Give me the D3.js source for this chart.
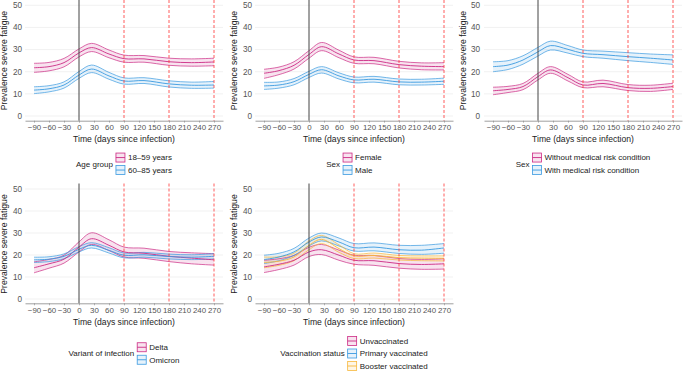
<!DOCTYPE html>
<html>
<head>
<meta charset="utf-8">
<script src="https://cdn.jsdelivr.net/npm/d3@7"></script>
<style>
  body { margin: 0; background: #fff; }
  svg { font-family: "Liberation Sans", Arial, sans-serif; }
</style>
</head>
<body>
<svg width="685" height="376"></svg>
<script>
const days = [-90, -60, -30, 0, 25, 60, 90, 130, 180, 225, 270];
const xTicks = [-90, -60, -30, 0, 30, 60, 90, 120, 150, 180, 210, 240, 270];
const yTicks = [0, 10, 20, 30, 40, 50];
const cutoffs = [90, 180, 270];

// age group
const age1859Mid = [21.8, 22.3, 24.1, 28.5, 30.9, 28.0, 25.9, 25.8, 24.5, 24.1, 24.4];
const age1859Hi  = [23.8, 24.2, 26.0, 30.3, 32.8, 29.8, 27.5, 27.3, 26.1, 25.8, 26.1];
const age1859Lo  = [19.7, 20.4, 22.2, 26.7, 29.1, 26.3, 24.3, 24.3, 22.9, 22.5, 22.7];
const age6085Mid = [11.7, 12.3, 14.0, 18.5, 21.2, 18.1, 15.8, 16.0, 14.5, 13.9, 14.0];
const age6085Hi  = [13.2, 13.7, 15.4, 20.1, 23.0, 19.7, 17.2, 17.3, 15.9, 15.3, 15.6];
const age6085Lo  = [10.1, 10.9, 12.6, 17.0, 19.6, 16.6, 14.4, 14.7, 13.1, 12.5, 12.6];

// sex
const femaleMid = [19.3, 20.5, 22.9, 27.8, 31.3, 28.0, 25.3, 25.0, 23.2, 22.5, 22.3];
const femaleHi  = [21.1, 22.1, 24.5, 29.5, 33.2, 29.7, 26.7, 26.5, 24.7, 24.0, 24.1];
const femaleLo  = [17.0, 18.7, 21.2, 26.1, 29.5, 26.3, 23.8, 23.6, 21.7, 20.9, 20.8];
const maleMid = [13.6, 14.0, 15.5, 18.8, 20.9, 18.1, 16.3, 16.6, 15.4, 15.3, 15.7];
const maleHi  = [15.2, 15.4, 16.9, 20.2, 22.3, 19.5, 17.6, 17.9, 16.7, 16.6, 17.1];
const maleLo  = [12.0, 12.6, 14.1, 17.4, 19.4, 16.7, 15.0, 15.3, 14.1, 14.0, 14.3];

// medical risk condition
const noRiskMid = [11.4, 12.0, 13.3, 17.8, 20.8, 17.3, 14.0, 14.7, 12.8, 12.5, 13.3];
const noRiskHi  = [13.0, 13.4, 14.7, 19.3, 22.3, 18.8, 15.4, 16.2, 14.2, 13.9, 14.8];
const noRiskLo  = [ 9.6, 10.6, 11.9, 16.3, 19.3, 15.8, 12.8, 13.2, 11.5, 11.1, 12.0];
const riskMid = [22.3, 23.0, 25.3, 29.0, 31.8, 30.1, 28.3, 27.7, 26.8, 26.1, 25.3];
const riskHi  = [24.5, 25.0, 27.2, 31.0, 33.8, 31.8, 29.8, 29.3, 28.6, 28.0, 27.6];
const riskLo  = [20.0, 21.0, 23.4, 27.1, 29.8, 28.4, 26.8, 26.1, 25.0, 24.2, 23.3];

// variant
const deltaMid = [14.2, 16.0, 18.1, 23.6, 27.4, 24.4, 21.4, 20.8, 19.4, 18.6, 17.8];
const deltaHi  = [16.9, 18.0, 19.9, 26.0, 30.1, 26.9, 23.6, 23.1, 21.6, 21.0, 20.6];
const deltaLo  = [11.9, 14.0, 16.3, 21.4, 24.8, 22.0, 19.1, 18.5, 17.0, 16.0, 15.4];
const omicronMid = [17.8, 18.1, 19.4, 22.6, 24.4, 22.1, 19.9, 20.1, 19.3, 19.0, 19.4];
const omicronHi  = [19.0, 19.2, 20.5, 23.8, 25.6, 23.3, 20.9, 21.2, 20.4, 20.1, 20.6];
const omicronLo  = [16.6, 17.0, 18.3, 21.4, 23.2, 20.9, 18.7, 19.0, 18.2, 17.9, 18.2];

// vaccination
const unvacMid = [14.6, 15.8, 17.6, 21.4, 22.4, 19.9, 17.6, 17.4, 16.1, 15.7, 16.0];
const unvacHi  = [17.6, 18.3, 19.8, 23.5, 24.8, 22.2, 19.9, 19.8, 18.4, 18.0, 18.3];
const unvacLo  = [12.0, 13.4, 15.4, 19.3, 20.2, 17.6, 15.8, 15.3, 14.0, 13.5, 13.6];
const primaryMid = [17.9, 19.1, 21.4, 25.9, 28.2, 25.9, 23.3, 23.6, 22.4, 22.2, 23.2];
const primaryHi  = [19.9, 20.8, 23.0, 27.7, 30.0, 27.7, 25.2, 25.5, 24.4, 24.4, 25.2];
const primaryLo  = [16.1, 17.4, 19.8, 24.1, 26.4, 24.1, 21.8, 21.9, 20.7, 20.3, 20.8];
const boosterMid = [16.6, 17.2, 19.1, 24.4, 27.1, 22.9, 19.6, 19.8, 18.8, 18.6, 18.5];
const boosterHi  = [19.1, 19.2, 20.8, 26.4, 28.9, 24.6, 20.6, 20.9, 19.8, 19.6, 19.6];
const boosterLo  = [14.2, 15.3, 17.4, 22.4, 25.2, 21.2, 18.4, 18.6, 17.7, 17.4, 17.3];

const pink = '#cc2a84', blue = '#3a9ae0', gold = '#f7b73c';

function ser(name, color, mid, lo, hi) {
    return { name, color, pts: days.map((d, i) => ({ d, m: mid[i], lo: lo[i], hi: hi[i] })) };
}

const panels = [
    { left: 25, row: 0, legend: 'Age group', series: [
        ser('18–59 years', pink, age1859Mid, age1859Lo, age1859Hi),
        ser('60–85 years', blue, age6085Mid, age6085Lo, age6085Hi)] },
    { left: 255, row: 0, legend: 'Sex', series: [
        ser('Female', pink, femaleMid, femaleLo, femaleHi),
        ser('Male', blue, maleMid, maleLo, maleHi)] },
    { left: 484, row: 0, legend: 'Sex', labelGap: 4, series: [
        ser('Without medical risk condition', pink, noRiskMid, noRiskLo, noRiskHi),
        ser('With medical risk condition', blue, riskMid, riskLo, riskHi)] },
    { left: 25, row: 1, legend: 'Variant of infection', series: [
        ser('Delta', pink, deltaMid, deltaLo, deltaHi),
        ser('Omicron', blue, omicronMid, omicronLo, omicronHi)] },
    { left: 255, row: 1, legend: 'Vaccination status', series: [
        ser('Unvaccinated', pink, unvacMid, unvacLo, unvacHi),
        ser('Primary vaccinated', blue, primaryMid, primaryLo, primaryHi),
        ser('Booster vaccinated', gold, boosterMid, boosterLo, boosterHi)] }
];

const rows = [
    { y0: 116, y50: 5.3, axisY: 120.7, top: 0, legendY: 163.8 },
    { y0: 299, y50: 189, axisY: 303.3, top: 183.5, legendY: 353.5 }
];

const svg = d3.select('svg');
const W = 198;

panels.forEach(p => {
    const r = rows[p.row];
    const x = d3.scaleLinear().domain([-108, 288]).range([p.left, p.left + W]);
    const y = d3.scaleLinear().domain([0, 50]).range([r.y0, r.y50]);
    const g = svg.append('g');

    // grid
    g.selectAll('line.grid').data(yTicks).join('line')
        .attr('x1', p.left).attr('x2', p.left + W)
        .attr('y1', d => y(d)).attr('y2', d => y(d))
        .attr('stroke', '#ebebeb').attr('stroke-width', 0.7);

    g.selectAll('text.ylab').data(yTicks).join('text')
        .attr('x', p.left - (p.labelGap || 3)).attr('y', d => y(d)).attr('dy', '0.35em')
        .attr('text-anchor', 'end').attr('font-size', 8.2).attr('fill', '#555')
        .text(d => d);

    // ribbons
    const area = d3.area().curve(d3.curveCatmullRom.alpha(0.5))
        .x(d => x(d.d)).y0(d => y(d.lo)).y1(d => y(d.hi));
    const line = k => d3.line().curve(d3.curveCatmullRom.alpha(0.5))
        .x(d => x(d.d)).y(d => y(d[k]));

    p.series.forEach(s => {
        g.append('path').datum(s.pts).attr('d', area)
            .attr('fill', s.color).attr('fill-opacity', 0.13);
    });
    p.series.forEach(s => {
        ['lo', 'hi'].forEach(k => {
            g.append('path').datum(s.pts).attr('d', line(k))
                .attr('fill', 'none').attr('stroke', s.color).attr('stroke-width', 0.7);
        });
    });
    p.series.forEach(s => {
        g.append('path').datum(s.pts).attr('d', line('m'))
            .attr('fill', 'none').attr('stroke', s.color).attr('stroke-width', 0.9);
    });

    // reference lines
    g.append('line').attr('x1', x(0)).attr('x2', x(0))
        .attr('y1', r.top).attr('y2', r.axisY)
        .attr('stroke', '#444').attr('stroke-width', 1);
    g.selectAll('line.cut').data(cutoffs).join('line')
        .attr('x1', d => x(d)).attr('x2', d => x(d))
        .attr('y1', r.top).attr('y2', r.axisY)
        .attr('stroke', '#f33').attr('stroke-width', 0.8)
        .attr('stroke-dasharray', '3,2');

    // x axis
    const ax = g.append('g').attr('transform', 'translate(0,' + r.axisY + ')')
        .call(d3.axisBottom(x).tickValues(xTicks).tickSize(2).tickPadding(2).tickSizeOuter(0)
            .tickFormat(d => d < 0 ? '\u2212' + Math.abs(d) : d));
    ax.select('.domain').attr('stroke', '#888').attr('stroke-width', 0.8);
    ax.selectAll('.tick line').attr('stroke', '#888').attr('stroke-width', 0.6);
    ax.selectAll('.tick text').attr('font-size', 7.9).attr('fill', '#555')
        .attr('font-family', '"Liberation Sans", Arial, sans-serif');

    g.append('text').attr('x', p.left + W / 2).attr('y', r.axisY + 18.6)
        .attr('dy', '0.35em').attr('text-anchor', 'middle')
        .attr('font-size', 8.6).attr('fill', '#222')
        .text('Time (days since infection)');

    g.append('text')
        .attr('transform', 'translate(' + (p.left - 21.5) + ',' + ((r.y0 + r.y50) / 2) + ') rotate(-90)')
        .attr('dy', '0.35em').attr('text-anchor', 'middle')
        .attr('font-size', 8.6).attr('fill', '#222')
        .text('Prevalence severe fatigue');

    // legend
    const lg = g.append('g');
    const title = lg.append('text').attr('y', r.legendY).attr('dy', '0.35em')
        .attr('font-size', 8).attr('fill', '#222').text(p.legend);
    const tw = title.node().getComputedTextLength();
    const n = p.series.length;
    const step = 12.5;
    const ky = i => r.legendY + (i - (n - 1) / 2) * step;
    const keyX = tw + 3;
    let maxLab = 0;
    p.series.forEach((s, i) => {
        lg.append('rect').attr('x', keyX).attr('y', ky(i) - 4.5)
            .attr('width', 9).attr('height', 9)
            .attr('fill', s.color).attr('fill-opacity', 0.13)
            .attr('stroke', s.color).attr('stroke-width', 0.8);
        lg.append('line').attr('x1', keyX).attr('x2', keyX + 9)
            .attr('y1', ky(i)).attr('y2', ky(i))
            .attr('stroke', s.color).attr('stroke-width', 0.9);
        const t = lg.append('text').attr('x', keyX + 12).attr('y', ky(i)).attr('dy', '0.35em')
            .attr('font-size', 8).attr('fill', '#222').text(s.name);
        maxLab = Math.max(maxLab, t.node().getComputedTextLength());
    });
    const total = keyX + 12 + maxLab;
    lg.attr('transform', 'translate(' + (p.left + W / 2 - total / 2) + ',0)');
});
</script>
</body>
</html>
